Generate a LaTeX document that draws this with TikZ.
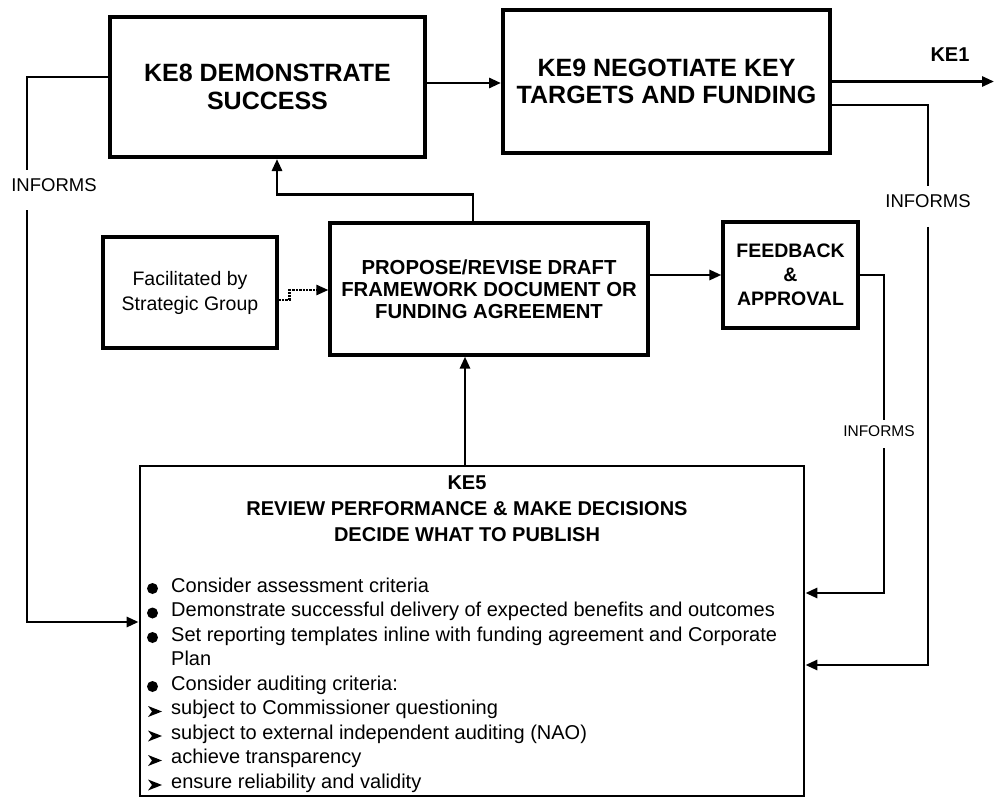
\documentclass[tikz,border=0pt]{standalone}
\usepackage{fontspec}
\setmainfont{Liberation Sans}
\usetikzlibrary{arrows.meta,calc}

\begin{document}
\begin{tikzpicture}[x=1bp,y=-1bp,
  titlebox/.style={draw, line width=4bp, align=center, inner sep=0pt,
    font=\bfseries\fontsize{25bp}{27.5bp}\selectfont},
  stepbox/.style={draw, line width=3.2bp, align=center, inner sep=0pt},
  link/.style={line width=2.8bp},
  flow/.style={link, -{Triangle[length=12bp,width=10bp]}},
  tag/.style={inner xsep=2bp, inner ysep=8.5bp, text depth=10.5bp,
    font=\fontsize{18.5bp}{20bp}\selectfont},
  smalltag/.style={inner xsep=2bp, inner ysep=5.5bp, text depth=6bp,
    font=\fontsize{15.5bp}{17bp}\selectfont},
  item/.style={anchor=base west, inner sep=0pt,
    font=\fontsize{20bp}{24bp}\selectfont},
]
\useasboundingbox (0,0) rectangle (995,798);

% main process boxes
\node[titlebox, minimum width=315bp, minimum height=140bp] (ke8) at (267.5,87)
  {KE8 DEMONSTRATE\\SUCCESS};
\node[titlebox, minimum width=327bp, minimum height=143bp] (ke9) at (666.5,81.5)
  {KE9 NEGOTIATE KEY\\TARGETS AND FUNDING};
\node[font=\bfseries\fontsize{20bp}{22bp}\selectfont] (ke1) at (950,55) {KE1};
\coordinate (ke1end) at (994,81.5);

\node[stepbox, minimum width=318bp, minimum height=132bp,
  font=\bfseries\fontsize{20.3bp}{22bp}\selectfont] (prop) at (489,289)
  {PROPOSE/REVISE DRAFT\\FRAMEWORK DOCUMENT OR\\FUNDING AGREEMENT};
\node[stepbox, minimum width=174bp, minimum height=111bp,
  font=\fontsize{19.5bp}{25bp}\selectfont] (fac) at (190,292.5)
  {Facilitated by\\Strategic Group};
\node[stepbox, minimum width=135bp, minimum height=106bp,
  font=\bfseries\fontsize{19.5bp}{24bp}\selectfont] (fb) at (790.5,275)
  {FEEDBACK\\\&\\APPROVAL};

% review box with its header and list
\node[draw, line width=2.8bp, minimum width=664bp, minimum height=330bp, inner sep=0pt]
  (ke5) at (472,631) {};
\node[align=center, inner sep=0pt, font=\bfseries\fontsize{20bp}{25.75bp}\selectfont]
  (ke5head) at (467,508.75)
  {KE5\\REVIEW PERFORMANCE \& MAKE DECISIONS\\DECIDE WHAT TO PUBLISH};

\node[item] (i1) at (171,592)   {Consider assessment criteria};
\node[item] (i2) at (171,616.5) {Demonstrate successful delivery of expected benefits and outcomes};
\node[item] (i3) at (171,641)   {Set reporting templates inline with funding agreement and Corporate};
\node[item] (i3b) at (171,665.5) {Plan};
\node[item] (i4) at (171,690)   {Consider auditing criteria:};
\node[item] (s1) at (171,714.5) {subject to Commissioner questioning};
\node[item] (s2) at (171,739)   {subject to external independent auditing (NAO)};
\node[item] (s3) at (171,763.5) {achieve transparency};
\node[item] (s4) at (171,788)   {ensure reliability and validity};

% list markers
\foreach \yy in {588.5,613,637.5,686.5}
  \fill (152.5,\yy) circle (5.5bp);
\foreach \yy in {711.5,736,760.5,785}
  \fill (148,\yy) ++(0,-5.5) -- ++(14,5.5) -- ++(-14,5.5) -- ++(4,-5.5) -- cycle;

% connector labels
\node[tag] (infL) at (54,190) {INFORMS};
\node[tag] (infR) at (928,206.5) {INFORMS};
\node[smalltag] (infS) at (879,434) {INFORMS};

% connectors
\draw[flow] ([yshift=4bp]ke8.east) -- ([yshift=4bp]ke8.east -| ke9.west);
\draw[flow] (ke9.east) -- (ke9.east -| ke1end);

\draw[link] ([yshift=-23.5bp]ke9.east) -| (infR.north);
\draw[flow] (infR.south) |- ([yshift=-34bp]ke5.east);

\draw[link] (fb.east) -| ([xshift=5bp]infS.north);
\draw[flow] ([xshift=5bp]infS.south) |- ([yshift=38bp]ke5.east);

\draw[link] ([yshift=10bp]ke8.west) -| ([xshift=-27bp]infL.north);
\draw[flow] ([xshift=-27bp]infL.south) |- ([yshift=9bp]ke5.west);

\draw[flow] ([xshift=-16bp]prop.north) -- ++(0,-27) -| ([xshift=9.5bp]ke8.south);
\draw[flow, line width=2.4bp, densely dotted] ([yshift=-7.5bp]fac.east) -- ++(11,0)
  |- ([yshift=-1bp]prop.west);
\draw[flow] ([xshift=-24bp]prop.south |- ke5.north) -- ([xshift=-24bp]prop.south);
\draw[flow] ([yshift=14bp]prop.east) -- ([yshift=14bp]prop.east -| fb.west);
\end{tikzpicture}
\end{document}
